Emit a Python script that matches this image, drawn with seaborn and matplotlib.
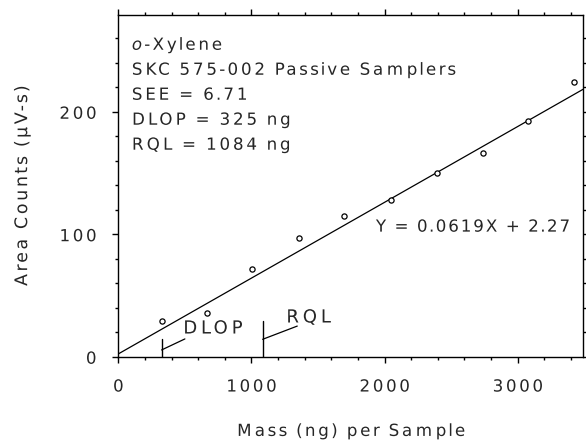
import numpy as np
import pandas as pd
import matplotlib
matplotlib.use("Agg")
import matplotlib.pyplot as plt
import seaborn as sns
from matplotlib.ticker import MultipleLocator
from matplotlib.patheffects import AbstractPathEffect
from matplotlib.path import Path
from matplotlib.transforms import IdentityTransform

# Calibration data: mass per sample (ng) vs. detector response
mass_ng = [326, 664, 1002, 1358, 1696, 2047, 2392, 2738, 3076, 3426]
area_counts = [29.2, 36.0, 71.2, 96.7, 115.0, 128.0, 149.8, 166.0, 192.6, 224.7]

# Regression fit and detection limits
slope = 0.0619
intercept = 2.27
see = 6.71
dlop_ng = 325
rql_ng = 1084

info_lines = [
    "SKC 575-002 Passive Samplers",
    f"SEE = {see:.2f}",
    f"DLOP = {dlop_ng} ng",
    f"RQL = {rql_ng} ng",
]


class Tracking(AbstractPathEffect):
    """Spread glyphs apart (letter spacing) without distorting their shapes."""

    def __init__(self, factor, anchor="left", axis=0):
        super().__init__()
        self.factor = factor
        self.anchor = anchor
        self.axis = axis

    def draw_path(self, renderer, gc, tpath, affine, rgbFace=None):
        codes = tpath.codes
        if codes is None or len(tpath.vertices) == 0:
            renderer.draw_path(gc, tpath, affine, rgbFace)
            return
        verts = affine.transform(tpath.vertices)
        valid = codes != Path.CLOSEPOLY
        coord = verts[:, self.axis].copy()
        lo, hi = coord[valid].min(), coord[valid].max()
        origin = {"left": lo, "right": hi, "center": 0.5 * (lo + hi)}[self.anchor]
        starts = np.flatnonzero(codes == Path.MOVETO)
        ends = list(starts[1:]) + [len(codes)]
        for s, e in zip(starts, ends):
            seg = coord[s:e][valid[s:e]]
            if len(seg) == 0:
                continue
            c = 0.5 * (seg.min() + seg.max())
            verts[s:e, self.axis] += (c - origin) * (self.factor - 1)
        renderer.draw_path(gc, Path(verts, codes), IdentityTransform(), rgbFace)


sns.set_style("ticks")
plt.rcParams["font.family"] = ["DejaVu Sans"]
text_color = "#262626"
track = 1.27

fig = plt.figure(figsize=(5.86, 4.42), dpi=100)
ax = fig.add_axes([118.3 / 586, 1 - 356.7 / 442, (583 - 118.3) / 586, (356.7 - 15) / 442])

xmax, ymax = 3490, 279
df = pd.DataFrame({"mass": mass_ng, "area": area_counts})
fit = pd.DataFrame({"mass": [0, xmax]})
fit["area"] = slope * fit["mass"] + intercept

sns.lineplot(data=fit, x="mass", y="area", ax=ax, color="black", lw=0.9)
sns.scatterplot(data=df, x="mass", y="area", ax=ax, marker="o", s=14,
                facecolor="white", edgecolor="black", linewidth=0.9, zorder=3)

# DLOP and RQL markers with leader lines
ax.plot([dlop_ng, dlop_ng], [0, 14.5], color="black", lw=1.0)
ax.plot([dlop_ng, dlop_ng + 175], [5.5, 14.5], color="black", lw=0.9)
ax.text(476, 23.0, "DLOP", fontsize=13, color=text_color, va="center", ha="left",
        path_effects=[Tracking(1.3)])

ax.plot([rql_ng, rql_ng], [0, 29.4], color="black", lw=1.0)
ax.plot([rql_ng, rql_ng + 260], [14.2, 25.0], color="black", lw=0.9)
ax.text(1251, 32.0, "RQL", fontsize=13, color=text_color, va="center", ha="left",
        path_effects=[Tracking(1.3)])

ax.text(1928, 106.2, f"Y = {slope}X + {intercept}", fontsize=12,
        color=text_color, va="center", ha="left", path_effects=[Tracking(1.18)])

# Information block
y0 = 254.7
ax.text(93, y0, "$\\it{o}$-Xylene", fontsize=12, color=text_color, va="center",
        ha="left", path_effects=[Tracking(track)])
for i, line in enumerate(info_lines):
    ax.text(93, y0 - 20.4 * (i + 1), line, fontsize=12, color=text_color,
            va="center", ha="left", path_effects=[Tracking(track)])

ax.set_xlim(0, xmax)
ax.set_ylim(0, ymax)
ax.xaxis.set_major_locator(MultipleLocator(1000))
ax.xaxis.set_minor_locator(MultipleLocator(200))
ax.yaxis.set_major_locator(MultipleLocator(100))
ax.yaxis.set_minor_locator(MultipleLocator(20))
ax.tick_params(which="both", direction="out", top=True, right=True,
               color="black", labelsize=12, labelcolor=text_color)
ax.tick_params(which="major", length=4.5, width=1.0, pad=10.5)
ax.tick_params(which="minor", length=2.5, width=1.0)
for sp in ax.spines.values():
    sp.set_visible(True)
    sp.set_color("black")
    sp.set_linewidth(1.0)

ax.set_xlabel("Mass (ng) per Sample", fontsize=12, color=text_color, labelpad=19)
ax.set_ylabel("Area Counts (µV-s)", fontsize=12.5, color=text_color, labelpad=25)
ax.xaxis.label.set_path_effects([Tracking(track, "center")])
ax.yaxis.label.set_path_effects([Tracking(1.25, "center", axis=1)])

fig.canvas.draw()
for lbl in ax.get_xticklabels():
    lbl.set_path_effects([Tracking(1.25, "center")])
for lbl in ax.get_yticklabels():
    lbl.set_path_effects([Tracking(1.25, "right")])

fig.savefig("out.png", dpi=100)
